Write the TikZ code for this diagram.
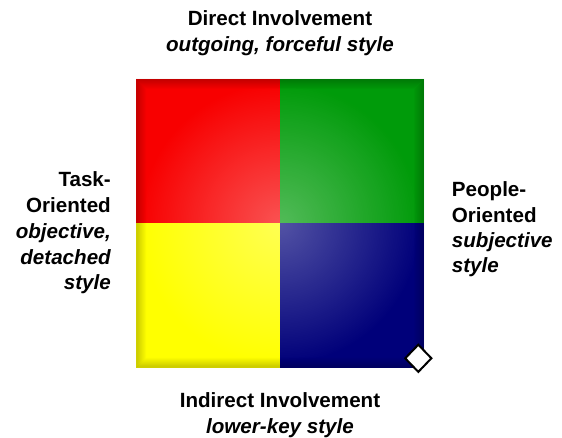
\documentclass[tikz,border=0pt]{standalone}
\usepackage{fontspec}
\setmainfont{Liberation Sans}
\usetikzlibrary{shapes.geometric,fadings}

\definecolor{quadRed}{RGB}{248,0,0}
\definecolor{quadGreen}{RGB}{0,155,10}
\definecolor{quadYellow}{RGB}{255,255,0}
\definecolor{quadNavy}{RGB}{0,0,122}

\tikzfading[name=glowFade, inner color=transparent!0, outer color=transparent!100]

\tikzset{
  headText/.style={font=\fontsize{20.6}{25.5}\selectfont\bfseries, inner sep=0pt},
  subText/.style={font=\fontsize{20.6}{25.5}\selectfont\bfseries\itshape, inner sep=0pt},
  gripMark/.style={diamond, draw=black, fill=white, line width=2pt, inner sep=0pt, minimum width=27pt, minimum height=28pt},
}

\begin{document}
\begin{tikzpicture}[x=1pt, y=1pt]
  \useasboundingbox (0,0) rectangle (562,438);
  \fill[quadRed] (136,214.5) rectangle (280,359);
  \fill[quadGreen] (280,214.5) rectangle (424,359);
  \fill[quadYellow] (136,70) rectangle (280,214.5);
  \fill[quadNavy] (280,70) rectangle (424,214.5);
  % glow in the middle
  \begin{scope}
    \clip (136,70) rectangle (424,359);
    \fill[white, opacity=.32, path fading=glowFade] (280,214.5) circle (140);
  \end{scope}
  % bevel round the edge, one thin ring at a time
  \foreach \k in {0,...,9}
    \fill[black, opacity=(10-\k)*0.019, even odd rule]
      (136+\k,70+\k) rectangle (424-\k,359-\k)
      (137+\k,71+\k) rectangle (423-\k,358-\k);
  \node[gripMark] (grip) at (418.3,79.7) {};

  \node[headText, anchor=base] (directHead) at (280,412) {Direct Involvement};
  \node[subText, anchor=base] (directSub) at (280,386) {outgoing, forceful style};
  \node[headText, anchor=base] (indirectHead) at (280,30.3) {Indirect Involvement};
  \node[subText, anchor=base] (indirectSub) at (280,4.5) {lower-key style};

  \node[headText, anchor=base east] (taskHead) at (111,251) {Task-};
  \node[headText, anchor=base east] (taskHeadB) at (111,225) {Oriented};
  \node[subText, anchor=base east] (taskSub) at (111,199) {objective,};
  \node[subText, anchor=base east] (taskSubB) at (111,173) {detached};
  \node[subText, anchor=base east] (taskSubC) at (111,148) {style};

  \node[headText, anchor=base west] (peopleHead) at (451.7,241.3) {People-};
  \node[headText, anchor=base west] (peopleHeadB) at (451.7,215.3) {Oriented};
  \node[subText, anchor=base west] (peopleSub) at (451.7,190) {subjective};
  \node[subText, anchor=base west] (peopleSubB) at (451.7,165) {style};
\end{tikzpicture}
\end{document}
